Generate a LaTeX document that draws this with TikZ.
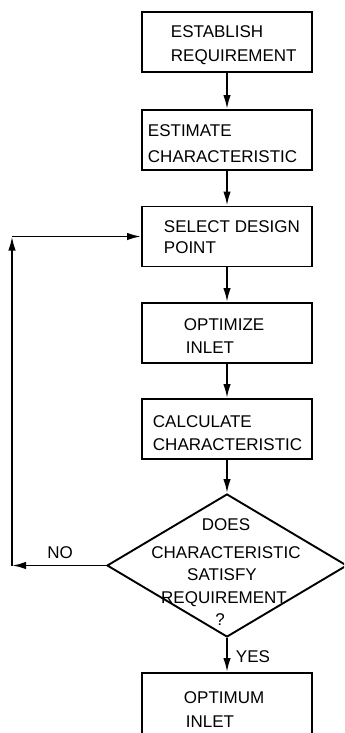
\documentclass[tikz,border=0pt]{standalone}
\usepackage{fontspec}
\setmainfont{Liberation Sans}
\usetikzlibrary{arrows.meta,shapes.geometric}
\begin{document}
\begin{tikzpicture}[x=1bp,y=-1bp,
  line width=1.9bp,
  stepbox/.style={draw, minimum width=170bp, minimum height=60bp, inner sep=0pt},
  txt/.style={inner sep=0pt, anchor=base west, font=\fontsize{17bp}{21bp}\selectfont},
  ctxt/.style={inner sep=0pt, anchor=base, font=\fontsize{17bp}{21bp}\selectfont},
  arr/.style={-{Latex[length=14bp,width=7.5bp]}}]
\useasboundingbox (0,0) rectangle (344,733);
\fill[white] (0,0) rectangle (344,733);
\clip (0,0) rectangle (344,733);
% boxes
\node[stepbox] (b1) at (227,42) {};
\node[stepbox] (b2) at (227,140) {};
\node[stepbox] (b3) at (227,236.5) {};
\node[stepbox] (b4) at (227,333) {};
\node[stepbox] (b5) at (227,429) {};
\node[draw, shape=diamond, minimum width=240bp, minimum height=143bp, inner sep=0pt] (d) at (227,565.5) {};
\node[draw, minimum width=170bp, minimum height=80bp, inner sep=0pt] (b6) at (227,713) {};
% texts
\node[txt] (t1a) at (170,38) {ESTABLISH};
\node[txt] (t1b) at (170,62) {REQUIREMENT};
\node[txt] (t2a) at (147,137) {ESTIMATE};
\node[txt] (t2b) at (147,162) {CHARACTERISTIC};
\node[txt] (t3a) at (163,232) {SELECT DESIGN};
\node[txt] (t3b) at (163,253) {POINT};
\node[txt] (t4a) at (183,330) {OPTIMIZE};
\node[txt] (t4b) at (185,353) {INLET};
\node[txt] (t5a) at (152,427) {CALCULATE};
\node[txt] (t5b) at (152,450) {CHARACTERISTIC};
\node[ctxt] (dt1) at (226,530) {DOES};
\node[ctxt] (dt2) at (226,558) {CHARACTERISTIC};
\node[ctxt] (dt3) at (222,580) {SATISFY};
\node[ctxt] (dt4) at (224,603) {REQUIREMENT};
\node[ctxt] (dt5) at (220,625) {?};
\node[ctxt] (no) at (60,558) {NO};
\node[txt] (yes) at (235,662) {YES};
\node[txt] (t6a) at (183,703) {OPTIMUM};
\node[txt] (t6b) at (185,727) {INLET};
% connectors
\draw[arr] (b1.south) -- (b2.north);
\draw[arr] (b2.south) -- (b3.north);
\draw[arr] (b3.south) -- (b4.north);
\draw[arr] (b4.south) -- (b5.north);
\draw[arr] (b5.south) -- (d.north);
\draw[arr] (d.south) -- (b6.north);
\coordinate (c1) at (12,565.5);
\coordinate (c2) at (12,236.5);
\draw[arr] (d.west) -- (c1);
\draw[arr] (c1) -- (c2);
\draw[arr] (c2) -- (b3.west);
\end{tikzpicture}
\end{document}
